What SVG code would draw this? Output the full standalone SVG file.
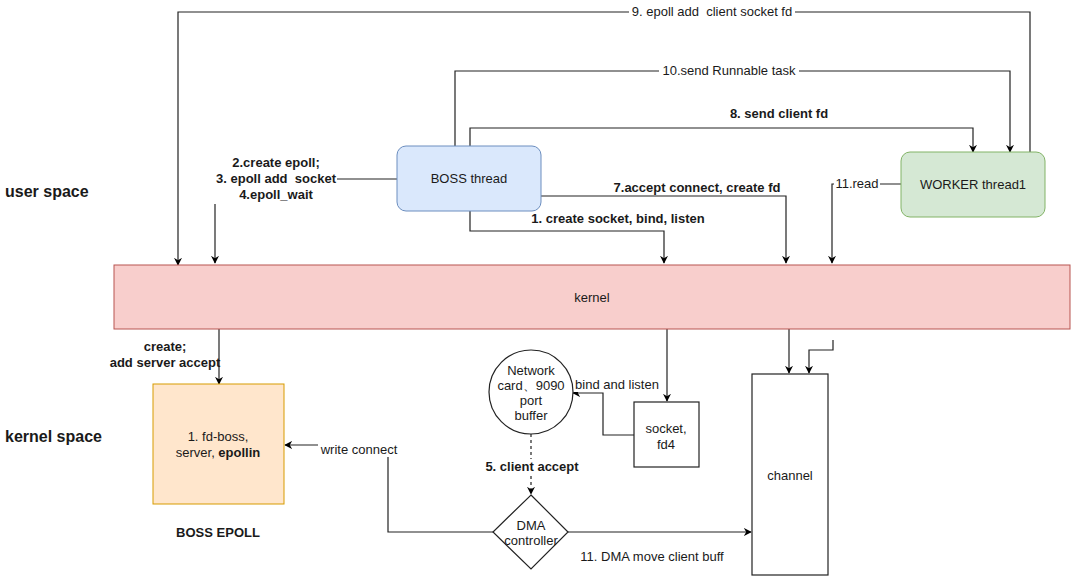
<svg xmlns="http://www.w3.org/2000/svg" width="1080" height="583" viewBox="0 0 1080 583">
<defs>
<marker id="arr" viewBox="0 0 10 10" refX="9" refY="5" markerWidth="8" markerHeight="8" markerUnits="userSpaceOnUse" orient="auto">
<path d="M0,0 L10,5 L0,10 L3,5 Z" fill="#000"/>
</marker>
<style>
text{font-family:"Liberation Sans",Arial,sans-serif;fill:#1a1a1a;white-space:pre}
.l{font-size:13px}
.b{font-size:13px;font-weight:bold}
.n{font-size:13px}
.big{font-size:16px;font-weight:bold}
.c{stroke:#222;stroke-width:1.2;fill:none}
.a{marker-end:url(#arr)}
.bg{fill:#fff}
</style>
</defs>
<rect width="1080" height="583" fill="#fff"/>

<text class="big" x="5" y="197">user space</text>
<text class="big" x="5" y="442">kernel space</text>

<g id="connectors">
<path class="c a" d="M1030,152 V12 H178 V265"/>
<path class="c a" d="M455,146 V71 H1010 V152"/>
<path class="c a" d="M470,146 V128 H973 V152"/>
<path class="c" d="M397,179 H337"/>
<path class="c a" d="M215,204 V263"/>
<path class="c a" d="M470,211 V231 H664 V263"/>
<path class="c a" d="M541,196 H786 V263"/>
<path class="c a" d="M901,184 H832 V263"/>
<path class="c a" d="M219,329 V384"/>
<path class="c a" d="M667,329 V401"/>
<path class="c a" d="M789,329 V373"/>
<path class="c a" d="M833,340 V350 H809 V373"/>
<path class="c a" d="M634,435 H603 V393 H573"/>
<path class="c a" d="M531,434 V494" stroke-dasharray="3,3"/>
<path class="c a" d="M568,532 H751"/>
<path class="c a" d="M493,532 H388 V445 H285"/>

<rect class="bg" x="629" y="4" width="166" height="16"/>
<text class="l" x="712" y="16" text-anchor="middle">9. epoll add  client socket fd</text>
<rect class="bg" x="659" y="63" width="140" height="16"/>
<text class="l" x="729" y="75" text-anchor="middle">10.send Runnable task</text>
<text class="b" x="779" y="118" text-anchor="middle">8. send client fd</text>
<text class="b" x="276" y="167" text-anchor="middle">2.create epoll;</text>
<text class="b" x="276" y="183" text-anchor="middle">3. epoll add  socket</text>
<text class="b" x="276" y="199" text-anchor="middle">4.epoll_wait</text>
<text class="b" x="618" y="223" text-anchor="middle">1. create socket, bind, listen</text>
<text class="b" x="697" y="192" text-anchor="middle">7.accept connect, create fd</text>
<rect class="bg" x="834" y="176" width="46" height="16"/>
<text class="l" x="857" y="188" text-anchor="middle">11.read</text>
<text class="b" x="165" y="351" text-anchor="middle">create;</text>
<text class="b" x="165" y="367" text-anchor="middle">add server accept</text>
<rect class="bg" x="318" y="441" width="82" height="16"/>
<text class="l" x="359" y="454" text-anchor="middle">write connect</text>
<rect class="bg" x="574" y="378" width="90" height="14"/>
<text class="l" x="617" y="389" text-anchor="middle">bind and listen</text>
<rect class="bg" x="476" y="459" width="110" height="16"/>
<text class="b" x="532" y="471" text-anchor="middle">5. client accept</text>
<text class="l" x="652" y="561" text-anchor="middle">11. DMA move client buff</text>
</g>

<g id="kernel">
<rect x="114" y="265" width="956" height="64" fill="#f8cecc" stroke="#b85450"/>
<text class="l" x="592" y="302" text-anchor="middle">kernel</text>
</g>

<g id="boss-thread">
<rect x="397" y="146" width="144" height="65" rx="9" fill="#dae8fc" stroke="#6c8ebf"/>
<text class="n" x="469" y="183" text-anchor="middle">BOSS thread</text>
</g>

<g id="worker-thread">
<rect x="901" y="152" width="144" height="65" rx="9" fill="#d5e8d4" stroke="#82b366"/>
<text class="n" x="973" y="189" text-anchor="middle">WORKER thread1</text>
</g>

<g id="boss-epoll">
<rect x="153" y="384" width="131" height="120" fill="#ffe6cc" stroke="#d79b00"/>
<text class="l" x="218" y="441" text-anchor="middle">1. fd-boss,</text>
<text class="l" x="218" y="457" text-anchor="middle">server, <tspan font-weight="bold">epollin</tspan></text>
<text class="b" x="218" y="537" text-anchor="middle">BOSS EPOLL</text>
</g>

<g id="network-card">
<circle cx="531" cy="392" r="42" fill="#fff" stroke="#222" stroke-width="1.2"/>
<text class="l" x="531" y="375" text-anchor="middle">Network</text>
<text class="l" x="531" y="390" text-anchor="middle">card、9090</text>
<text class="l" x="531" y="405" text-anchor="middle">port</text>
<text class="l" x="531" y="420" text-anchor="middle">buffer</text>
</g>

<g id="socket">
<rect x="634" y="402" width="65" height="65" fill="#fff" stroke="#222" stroke-width="1.2"/>
<text class="l" x="666" y="433" text-anchor="middle">socket,</text>
<text class="l" x="666" y="449" text-anchor="middle">fd4</text>
</g>

<g id="dma">
<polygon points="531,495 568,532 531,569 493,532" fill="#fff" stroke="#222" stroke-width="1.2"/>
<text class="l" x="531" y="530" text-anchor="middle">DMA</text>
<text class="l" x="531" y="545" text-anchor="middle">controller</text>
</g>

<g id="channel">
<rect x="752" y="374" width="76" height="201" fill="#fff" stroke="#222" stroke-width="1.2"/>
<text class="l" x="790" y="480" text-anchor="middle">channel</text>
</g>
</svg>
